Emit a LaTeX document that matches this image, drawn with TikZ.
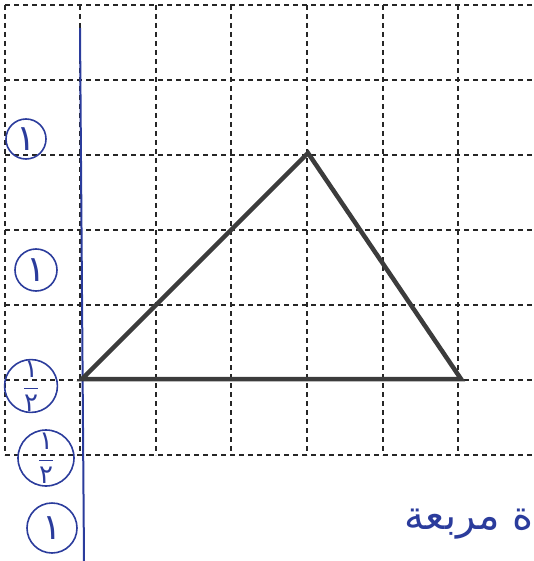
\documentclass[tikz,border=0pt]{standalone}
\usepackage{fontspec}
\newfontfamily\arabicfont[Script=Arabic]{DejaVu Sans}
\TeXXeTstate=1
\definecolor{ink}{HTML}{2B3C9C}
\definecolor{pencil}{HTML}{3C3C3C}

\begin{document}
\begin{tikzpicture}[x=1pt, y=-1pt,
  gridline/.style={draw=black!85, line width=1.1pt, dash pattern=on 5pt off 4pt},
  score/.style={draw=ink, text=ink, circle, line width=1.6pt, inner sep=0pt},
  digit/.style={font=\fontsize{36}{38}\arabicfont},
  half/.style={font=\fontsize{26}{28}\arabicfont},
  side/.style={draw=pencil, line width=4.5pt}]
\useasboundingbox (0,0) rectangle (534,561);

\foreach \y in {5,80,155,230,305,380,455}
  \draw[gridline] (5,\y) -- (534,\y);
\foreach \x in {5,80,156,231,307,383,458}
  \draw[gridline] (\x,5) -- (\x,455);

\coordinate (top) at (80,28);
\coordinate (bottom) at (84,561);
\draw[ink, line width=2pt] (top) -- (bottom);

\coordinate (A) at (82,379);
\coordinate (B) at (308,153);
\coordinate (C) at (461,379);
\draw[side] (A) -- (B) -- (C) -- cycle;

\node (s1) [score, digit, minimum size=40pt] at (26,139) {١};
\node (s2) [score, digit, minimum size=42pt] at (36,270) {١};
\node (s3) [score, half, minimum size=52pt] at (31,386) {$\displaystyle\frac{\hbox{\arabicfont ١}}{\hbox{\arabicfont ٢}}$};
\node (s4) [score, half, minimum size=56pt] at (46,458) {$\displaystyle\frac{\hbox{\arabicfont ١}}{\hbox{\arabicfont ٢}}$};
\node (s5) [score, digit, minimum size=50pt] at (52,528) {١};

\node (unit) [anchor=east, text=ink, font=\fontsize{40}{42}\arabicfont] at (537,524) {\beginR ة مربعة\endR};
\end{tikzpicture}
\end{document}
